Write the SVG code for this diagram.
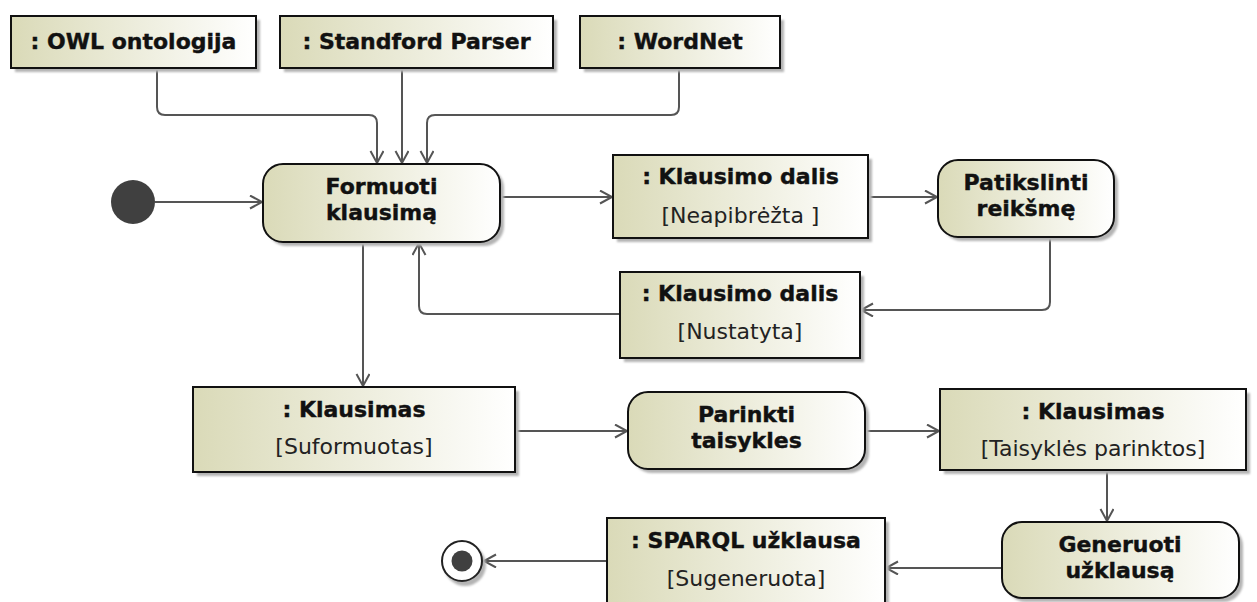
<svg xmlns="http://www.w3.org/2000/svg" width="1257" height="602" viewBox="0 0 1257 602">
  <defs>
    <linearGradient id="fill" x1="0" y1="0" x2="1" y2="0">
      <stop offset="0" stop-color="#dadab8"/>
      <stop offset="1" stop-color="#ffffff"/>
    </linearGradient>
    <filter id="soft" x="-10%" y="-10%" width="120%" height="120%">
      <feGaussianBlur stdDeviation="1.2"/>
    </filter>
    <marker id="open" markerUnits="userSpaceOnUse" markerWidth="16" markerHeight="16" refX="13" refY="7" orient="auto">
      <path d="M1,0.5 L13,7 L1,13.5" fill="none" stroke="#555" stroke-width="2"/>
    </marker>
  </defs>
  <style>
    .box { fill: url(#fill); stroke: #111; stroke-width: 2; }
    .shadow { fill: #b4b4b4; filter: url(#soft); }
    .title { font-family: "DejaVu Sans", Verdana, sans-serif; font-weight: bold; font-size: 22px; fill: #111; stroke: #111; stroke-width: 0.4; text-anchor: middle; }
    .state { font-family: "DejaVu Sans", Verdana, sans-serif; font-size: 22px; fill: #222; text-anchor: middle; }
    .edge { fill: none; stroke: #555; stroke-width: 2; marker-end: url(#open); }
  </style>

  <rect width="1257" height="602" fill="#ffffff"/>

  <!-- connectors -->
  <g id="connectors">
    <path class="edge" d="M157,68 V107 Q157,115 165,115 H369 Q377,115 377,123 V163"/>
    <path class="edge" d="M402,68 V163"/>
    <path class="edge" d="M679,68 V107 Q679,115 671,115 H435 Q427,115 427,123 V163"/>
    <path class="edge" d="M155,202 H262"/>
    <path class="edge" d="M500,197 H612"/>
    <path class="edge" d="M868,197 H937"/>
    <path class="edge" d="M1050,237 V302 Q1050,310 1042,310 H861"/>
    <path class="edge" d="M620,314 H427 Q419,314 419,306 V243"/>
    <path class="edge" d="M363,242 V386"/>
    <path class="edge" d="M515,431 H627"/>
    <path class="edge" d="M865,431 H939"/>
    <path class="edge" d="M1107,470 V521"/>
    <path class="edge" d="M1002,568 H886"/>
    <path class="edge" d="M607,561 H484"/>
  </g>

  <!-- object nodes -->
  <g id="owl">
    <rect class="shadow" x="15" y="20" width="245" height="52"/>
    <rect class="box" x="11" y="16" width="245" height="52"/>
    <text class="title" x="133.5" y="49">: OWL ontologija</text>
  </g>
  <g id="stanford">
    <rect class="shadow" x="284" y="20" width="273" height="52"/>
    <rect class="box" x="280" y="16" width="273" height="52"/>
    <text class="title" x="416.5" y="49">: Standford Parser</text>
  </g>
  <g id="wordnet">
    <rect class="shadow" x="584" y="20" width="200" height="52"/>
    <rect class="box" x="580" y="16" width="200" height="52"/>
    <text class="title" x="680" y="49">: WordNet</text>
  </g>

  <!-- initial node -->
  <g id="start">
    <circle cx="133" cy="202" r="22" fill="#404040"/>
  </g>

  <g id="formuoti">
    <rect class="shadow" x="267" y="168" width="237" height="78" rx="20"/>
    <rect class="box" x="263" y="164" width="237" height="78" rx="20"/>
    <text class="title" x="381.5" y="194">Formuoti</text>
    <text class="title" x="381.5" y="220">klausimą</text>
  </g>

  <g id="dalis-neapibrezta">
    <rect class="shadow" x="617" y="159" width="255" height="83"/>
    <rect class="box" x="613" y="155" width="255" height="83"/>
    <text class="title" x="740.5" y="184">: Klausimo dalis</text>
    <text class="state" x="740.5" y="223">[Neapibrėžta ]</text>
  </g>

  <g id="patikslinti">
    <rect class="shadow" x="942" y="164" width="176" height="77" rx="20"/>
    <rect class="box" x="938" y="160" width="176" height="77" rx="20"/>
    <text class="title" x="1026" y="190">Patikslinti</text>
    <text class="title" x="1026" y="216">reikšmę</text>
  </g>

  <g id="dalis-nustatyta">
    <rect class="shadow" x="624" y="276" width="240" height="86"/>
    <rect class="box" x="620" y="272" width="240" height="86"/>
    <text class="title" x="740" y="301">: Klausimo dalis</text>
    <text class="state" x="740" y="339">[Nustatyta]</text>
  </g>

  <g id="klausimas-suformuotas">
    <rect class="shadow" x="197" y="391" width="322" height="85"/>
    <rect class="box" x="193" y="387" width="322" height="85"/>
    <text class="title" x="354" y="417">: Klausimas</text>
    <text class="state" x="354" y="454">[Suformuotas]</text>
  </g>

  <g id="parinkti">
    <rect class="shadow" x="632" y="396" width="237" height="77" rx="20"/>
    <rect class="box" x="628" y="392" width="237" height="77" rx="20"/>
    <text class="title" x="746.5" y="422">Parinkti</text>
    <text class="title" x="746.5" y="448">taisykles</text>
  </g>

  <g id="klausimas-parinktos">
    <rect class="shadow" x="944" y="393" width="306" height="81"/>
    <rect class="box" x="940" y="389" width="306" height="81"/>
    <text class="title" x="1093" y="419">: Klausimas</text>
    <text class="state" x="1093" y="456">[Taisyklės parinktos]</text>
  </g>

  <g id="generuoti">
    <rect class="shadow" x="1006" y="526" width="237" height="76" rx="20"/>
    <rect class="box" x="1002" y="522" width="237" height="76" rx="20"/>
    <text class="title" x="1120" y="552">Generuoti</text>
    <text class="title" x="1120" y="578">užklausą</text>
  </g>

  <g id="sparql">
    <rect class="shadow" x="611" y="522" width="278" height="90"/>
    <rect class="box" x="607" y="518" width="278" height="90"/>
    <text class="title" x="746" y="548">: SPARQL užklausa</text>
    <text class="state" x="746" y="586">[Sugeneruota]</text>
  </g>

  <!-- final node -->
  <g id="end">
    <circle cx="465" cy="565" r="21" fill="#b4b4b4" filter="url(#soft)"/>
    <circle cx="462" cy="561" r="20" fill="#ffffff" stroke="#222" stroke-width="2"/>
    <circle cx="462" cy="561" r="10.5" fill="#404040"/>
  </g>
</svg>
